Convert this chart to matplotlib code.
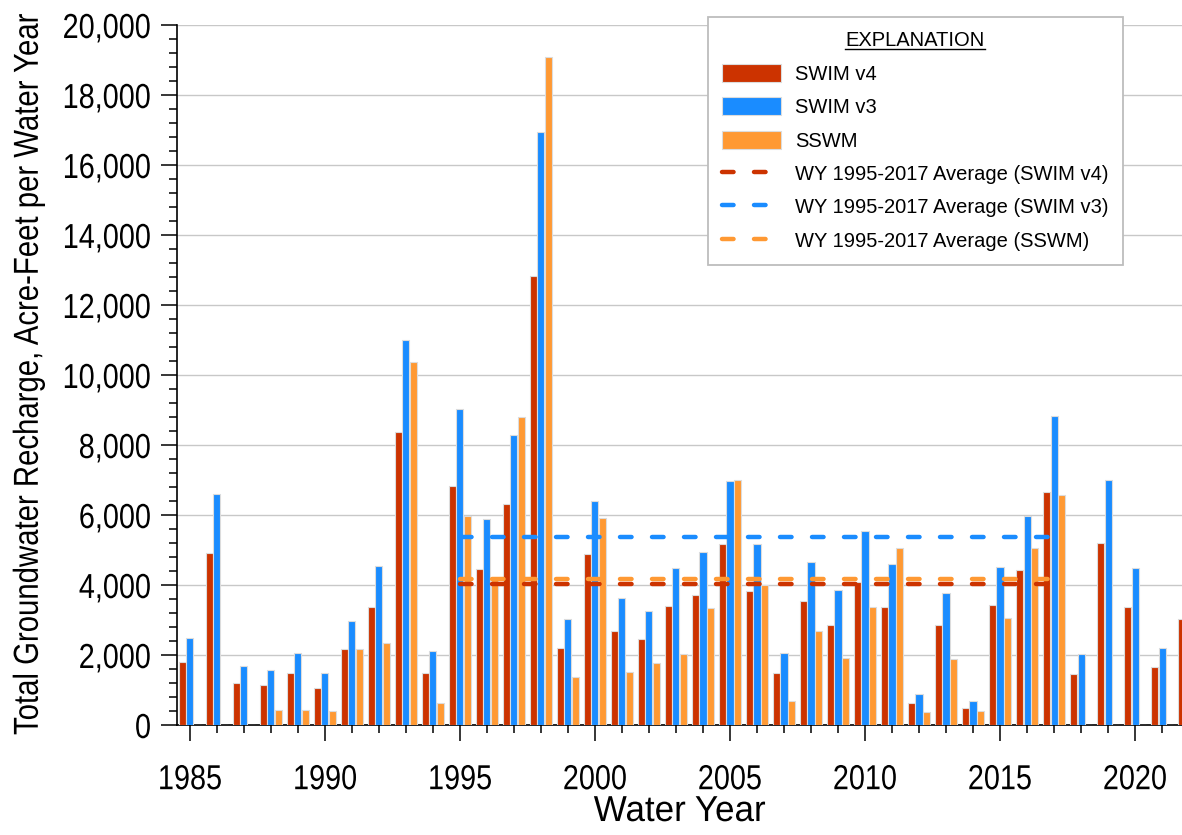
"""
recharge_plot.py

Annual groundwater recharge by water year for three models
(SWIM v4, SWIM v3, SSWM), with WY 1995-2017 averages drawn as dashed lines.
"""

import numpy as np
import matplotlib.pyplot as plt
import matplotlib.ticker as ticker
import matplotlib.patheffects as patheffects
from matplotlib.patches import Patch
from matplotlib.lines import Line2D
from matplotlib.transforms import Affine2D


# ─────────────────────────────────────────────
# Data (acre-feet per water year)
# ─────────────────────────────────────────────

water_years = list(range(1985, 2023))

swim_v4 = [
    1790, 4910, 1190, 1140, 1480, 1070, 2160, 3370, 8380, 1500,
    6830, 4450, 6310, 12840, 2190, 4890, 2690, 2460, 3400, 3710,
    5170, 3830, 1480, 3540, 2850, 4080, 3360, 620, 2870, 500,
    3430, 4440, 6670, 1460, 5190, 3370, 1670, 3030,
]
swim_v3 = [
    2490, 6600, 1690, 1560, 2050, 1500, 2980, 4540, 11000, 2120,
    9030, 5890, 8280, 16940, 3020, 6400, 3620, 3270, 4500, 4940,
    6980, 5180, 2050, 4660, 3870, 5550, 4600, 880, 3760, 700,
    4520, 5980, 8830, 2020, 6990, 4490, 2190, 0,
]
sswm = [
    0, 0, 0, 420, 430, 410, 2180, 2350, 10370, 630,
    5980, 4150, 8810, 19090, 1360, 5920, 1510, 1760, 2030, 3350,
    6990, 4000, 690, 2680, 1920, 3380, 5050, 380, 1880, 400,
    3050, 5070, 6570, 0, 0, 0, 0, 0,
]

series_names = ["SWIM v4", "SWIM v3", "SSWM"]
avg_start, avg_end = 1995, 2017


# ─────────────────────────────────────────────
# Style
# ─────────────────────────────────────────────

COLORS = ["#CC3300", "#1A8CFF", "#FF9933"]
AXIS_FONT = ["Liberation Sans", "DejaVu Sans"]
LEGEND_FONT = ["Liberation Sans", "DejaVu Sans"]

BAR_WIDTH = 0.26
BAR_STEP = 0.27
DASH_LW = 3.2
DASHES = (2.6, 4.6)


class Squeeze(patheffects.AbstractPathEffect):
    """Rescale a text's glyphs around its anchor (0=left, 0.5=center, 1=right)."""

    def __init__(self, sx=0.83, align=0.5, sy=1.0):
        super().__init__()
        self._sx = sx
        self._sy = sy
        self._align = align

    def draw_path(self, renderer, gc, tpath, affine, rgbFace=None):
        ext = tpath.get_extents()
        anchor = ext.x0 + ext.width * self._align
        squeeze = Affine2D().scale(self._sx, self._sy).translate((1 - self._sx) * anchor, 0)
        renderer.draw_path(gc, tpath, squeeze + affine, rgbFace)


def plot_recharge(save_path: str = "out.png") -> plt.Figure:
    fig = plt.figure(figsize=(11.82, 8.35), dpi=100)
    ax = fig.add_axes([177 / 1182, 110 / 835, 1 - 177 / 1182, 700 / 835])

    years = np.array(water_years)
    all_series = [np.array(swim_v4), np.array(swim_v3), np.array(sswm)]

    # bars for each model, offset around the year tick
    for i, (vals, color) in enumerate(zip(all_series, COLORS)):
        ax.bar(
            years + (i - 1) * BAR_STEP, vals, width=BAR_WIDTH,
            color=color, edgecolor="#dcdcdc", linewidth=0.8, zorder=3,
        )

    # WY 1995-2017 averages
    mask = (years >= avg_start) & (years <= avg_end)
    for vals, color in zip(all_series, COLORS):
        avg = vals[mask].mean()
        ax.plot(
            [avg_start, avg_end], [avg, avg], color=color, linewidth=DASH_LW,
            dashes=DASHES, dash_capstyle="round", zorder=4,
        )

    # axes
    ax.set_xlim(1984.52, 2021.74)
    ax.set_ylim(0, 20000)
    for side in ("top", "right"):
        ax.spines[side].set_visible(False)
    for side in ("left", "bottom"):
        ax.spines[side].set_linewidth(1.2)
        ax.spines[side].set_zorder(2.5)

    ax.xaxis.set_major_locator(ticker.MultipleLocator(5))
    ax.xaxis.set_minor_locator(ticker.MultipleLocator(1))
    ax.yaxis.set_major_locator(ticker.MultipleLocator(2000))
    ax.yaxis.set_minor_locator(ticker.MultipleLocator(400))
    ax.yaxis.set_major_formatter(ticker.FuncFormatter(lambda v, _: f"{v:,.0f}"))

    ax.tick_params(which="major", direction="out", length=11.5, width=1.1, color="black")
    ax.tick_params(which="minor", direction="out", length=6, width=1.1, color="black")
    ax.tick_params(axis="x", which="major", pad=16)
    ax.tick_params(axis="y", which="major", pad=7)

    for lab in ax.get_xticklabels():
        lab.set_family(AXIS_FONT)
        lab.set_fontsize(25)
        lab.set_path_effects([Squeeze(0.83, 0.5)])
    for lab in ax.get_yticklabels():
        lab.set_family(AXIS_FONT)
        lab.set_fontsize(25)
        lab.set_path_effects([Squeeze(0.83, 1.0)])

    ax.grid(axis="y", which="major", color="#c8c8c8", linewidth=1.0)
    ax.set_axisbelow(True)

    # axis titles are set small and scaled up when drawn, so they fit the canvas
    xl = ax.set_xlabel("Water Year", family=AXIS_FONT, fontsize=20)
    xl.set_path_effects([Squeeze(1.26, 0.5, 1.3)])
    ax.xaxis.set_label_coords(0.5, -0.1086)

    yl = ax.set_ylabel(
        "Total Groundwater Recharge, Acre-Feet per Water Year",
        family=AXIS_FONT, fontsize=22, labelpad=0,
    )
    yl.set_path_effects([Squeeze(0.845 * 25 / 22, 0.5, 25 / 22)])

    # legend
    handles = [Patch(facecolor=c, edgecolor="#dcdcdc", linewidth=0.8) for c in COLORS]
    handles += [
        Line2D([0], [0], color=c, linewidth=DASH_LW, dashes=DASHES, dash_capstyle="round")
        for c in COLORS
    ]
    labels = series_names + [f"WY {avg_start}-{avg_end} Average ({n})" for n in series_names]

    leg = ax.legend(
        handles, labels, title="EXPLANATION",
        loc="upper right", bbox_to_anchor=(0.941, 1.011),
        prop={"family": LEGEND_FONT, "size": 14.5},
        title_fontproperties={"family": LEGEND_FONT, "size": 14.5},
        frameon=True, fancybox=False, edgecolor="#bdbdbd", framealpha=1,
        handlelength=2.95, handleheight=1.0, handletextpad=0.7,
        labelspacing=0.67, borderpad=0.7, borderaxespad=0,
    )
    leg.get_frame().set_linewidth(1.3)
    leg.set_zorder(6)

    # underline the legend title
    fig.canvas.draw()
    bb = leg.get_title().get_window_extent().transformed(fig.transFigure.inverted())
    fig.add_artist(Line2D(
        [bb.x0, bb.x1], [bb.y0 + 0.002, bb.y0 + 0.002],
        color="black", linewidth=1.0, transform=fig.transFigure, zorder=7,
    ))

    fig.savefig(save_path, dpi=100)
    return fig


if __name__ == "__main__":
    plot_recharge("out.png")
